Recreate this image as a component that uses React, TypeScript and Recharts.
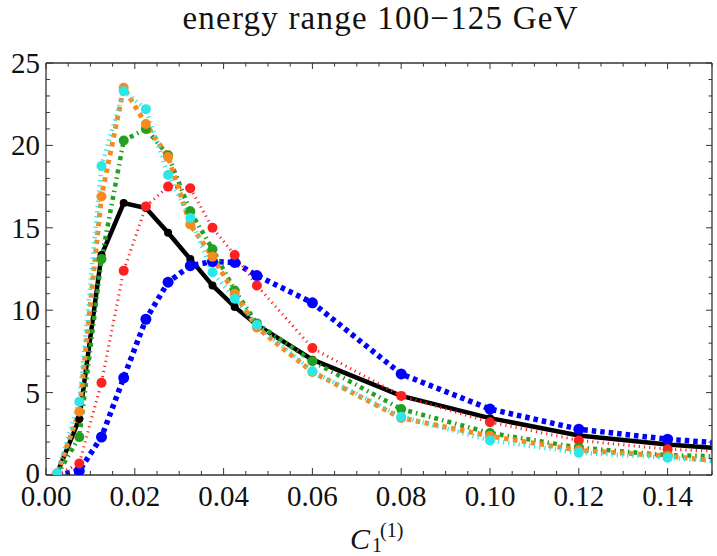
import React from "react";
import { LineChart, Line, XAxis, YAxis } from "recharts";

// x positions of the points (last entry = where the lines leave the frame)
const xValues = [
  0.0025, 0.0075, 0.0125, 0.0175, 0.0225, 0.0275, 0.0325, 0.0375, 0.0425,
  0.0475, 0.06, 0.08, 0.1, 0.12, 0.14, 0.15,
];

const blackSeries = [0.1, 3.4, 13.35, 16.5, 16.2, 14.7, 13.1, 11.5, 10.2, 9.1, 7.0, 4.8, 3.45, 2.4, 1.85, 1.66];
const blueSeries = [0, 0.26, 2.3, 5.9, 9.45, 11.7, 12.7, 12.95, 12.9, 12.1, 10.45, 6.13, 4.0, 2.78, 2.17, 1.97];
const redSeries = [0, 0.7, 5.6, 12.4, 16.3, 17.5, 17.4, 15.0, 13.35, 11.5, 7.7, 4.8, 3.2, 2.1, 1.56, 1.45];
const greenSeries = [0, 2.3, 13.1, 20.3, 21.0, 19.4, 16.0, 13.7, 11.2, 9.2, 6.9, 4.0, 2.55, 1.66, 1.2, 1.15];
const orangeSeries = [0.1, 3.84, 16.9, 23.5, 21.3, 19.3, 15.2, 13.25, 11.0, 8.95, 6.25, 3.46, 2.36, 1.5, 1.15, 0.88];
const cyanSeries = [0.1, 4.45, 18.75, 23.3, 22.2, 18.2, 15.6, 12.3, 10.7, 9.1, 6.3, 3.54, 2.1, 1.35, 1.05, 0.85];

const xMajorTicks = [0, 0.02, 0.04, 0.06, 0.08, 0.1, 0.12, 0.14];
const yMajorTicks = [0, 5, 10, 15, 20, 25];

// minor ticks every 0.005 / every 1
const xTicks = Array.from({ length: 31 }, (_, i) => +(i * 0.005).toFixed(3));
const yTicks = Array.from({ length: 26 }, (_, i) => i);

const data = xValues.map((x, i) => ({
  x,
  black: blackSeries[i],
  blue: blueSeries[i],
  red: redSeries[i],
  green: greenSeries[i],
  orange: orangeSeries[i],
  cyan: cyanSeries[i],
}));

const series = [
  { key: "black", color: "#000000", width: 4.5, dash: undefined, r: 4 },
  { key: "blue", color: "#0000ff", width: 5.5, dash: "4.5 4", r: 5.5 },
  { key: "red", color: "#ff2020", width: 3, dash: "1.2 4", r: 5 },
  { key: "green", color: "#22a022", width: 4.5, dash: "4 4 1.5 4", r: 5 },
  { key: "orange", color: "#f7891f", width: 5, dash: "4.5 4.5", r: 5 },
  { key: "cyan", color: "#2ee6e6", width: 4.5, dash: "1.2 4", r: 5 },
];

const FONT = "'Liberation Serif', 'Times New Roman', serif";
const FRAME = "#333";

const isMajorX = (v: number) => xMajorTicks.some((t) => Math.abs(t - v) < 1e-9);
const isMajorY = (v: number) => yMajorTicks.includes(v);

const XTick = ({ x, y, payload, top }: any) => {
  const major = isMajorX(payload.value);
  const len = top ? (major ? 6 : 3.5) : major ? 7 : 4;
  const dir = top ? 1 : -1;
  return (
    <g>
      <line x1={x} y1={y} x2={x} y2={y + dir * len} stroke={FRAME} strokeWidth={1} />
      {!top && major && (
        <text x={x} y={y + 31} textAnchor="middle" fontSize={29} fontFamily={FONT} fill="#111">
          {payload.value.toFixed(2)}
        </text>
      )}
    </g>
  );
};

const YTick = ({ x, y, payload, right }: any) => {
  const major = isMajorY(payload.value);
  const len = right ? (major ? 6 : 3.5) : major ? 7 : 4;
  const dir = right ? -1 : 1;
  // the "0" sits right on top of "0.00", lift it a touch
  const lift = payload.value === 0 ? 2 : 0;
  return (
    <g>
      <line x1={x} y1={y} x2={x + dir * len} y2={y} stroke={FRAME} strokeWidth={1} />
      {!right && major && (
        <text x={x - 6} y={y + 10 - lift} textAnchor="end" fontSize={29} fontFamily={FONT} fill="#111">
          {payload.value}
        </text>
      )}
    </g>
  );
};

const makeDot = (color: string, r: number) => (props: any) => {
  const { cx, cy, payload, index } = props;
  if (payload.x > 0.145) return <g key={index} />;
  return <circle key={index} cx={cx} cy={cy} r={r} fill={color} />;
};

export default function App() {
  return (
    <div style={{ position: "absolute", left: 0, top: 0, width: 717, height: 556 }}>
      <LineChart
        width={717}
        height={556}
        data={data}
        margin={{ top: 62, right: 4, bottom: 80, left: 45 }}
      >
        <XAxis
          dataKey="x"
          type="number"
          domain={[0, 0.15]}
          ticks={xTicks}
          interval={0}
          height={1}
          tickSize={0}
          tickMargin={0}
          tickLine={false}
          allowDataOverflow
          axisLine={{ stroke: FRAME, strokeWidth: 1.3 }}
          tick={(p: any) => <XTick {...p} />}
        />
        <XAxis
          xAxisId="top"
          dataKey="x"
          type="number"
          orientation="top"
          domain={[0, 0.15]}
          ticks={xTicks}
          interval={0}
          height={1}
          tickSize={0}
          tickMargin={0}
          tickLine={false}
          allowDataOverflow
          axisLine={{ stroke: FRAME, strokeWidth: 1.3 }}
          tick={(p: any) => <XTick {...p} top />}
        />
        <YAxis
          type="number"
          domain={[0, 25]}
          ticks={yTicks}
          interval={0}
          width={1}
          tickSize={0}
          tickMargin={0}
          tickLine={false}
          allowDataOverflow
          axisLine={{ stroke: FRAME, strokeWidth: 1.3 }}
          tick={(p: any) => <YTick {...p} />}
        />
        <YAxis
          yAxisId="right"
          orientation="right"
          type="number"
          domain={[0, 25]}
          ticks={yTicks}
          interval={0}
          width={1}
          tickSize={0}
          tickMargin={0}
          tickLine={false}
          allowDataOverflow
          axisLine={{ stroke: FRAME, strokeWidth: 1.3 }}
          tick={(p: any) => <YTick {...p} right />}
        />
        {series.map((s) => (
          <Line
            key={s.key}
            dataKey={s.key}
            type="linear"
            stroke={s.color}
            strokeWidth={s.width}
            strokeDasharray={s.dash}
            dot={makeDot(s.color, s.r)}
            activeDot={false}
            isAnimationActive={false}
          />
        ))}
      </LineChart>
      <svg
        width={717}
        height={556}
        style={{ position: "absolute", left: 0, top: 0, pointerEvents: "none" }}
      >
        <text
          x={380}
          y={29}
          textAnchor="middle"
          fontSize={33}
          fontFamily={FONT}
          fill="#111"
          textLength={395}
          lengthAdjust="spacing"
        >
          energy range 100−125 GeV
        </text>
        <text x={350} y={549} fontSize={30} fontStyle="italic" fontFamily={FONT} fill="#111">
          C
        </text>
        <text x={372} y={552} fontSize={20} fontFamily={FONT} fill="#111">
          1
        </text>
        <text x={380} y={537} fontSize={20} fontFamily={FONT} fill="#111">
          (1)
        </text>
      </svg>
    </div>
  );
}
